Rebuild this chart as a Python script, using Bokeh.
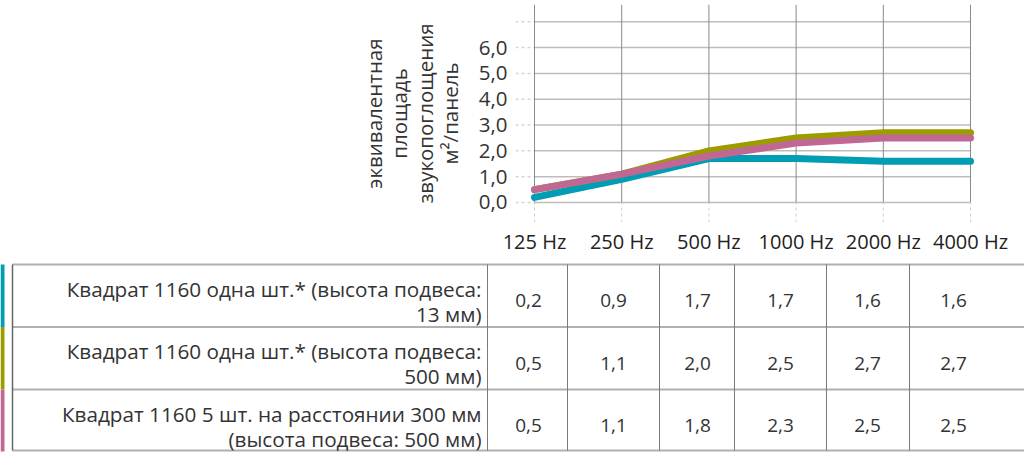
from bokeh.plotting import figure
from bokeh.models import Range1d, FixedTicker
from bokeh.core.properties import value
from bokeh.embed import file_html
from bokeh.resources import INLINE

# ---- data ----
freqs = ["125 Hz", "250 Hz", "500 Hz", "1000 Hz", "2000 Hz", "4000 Hz"]
s1 = [0.2, 0.9, 1.7, 1.7, 1.6, 1.6]
s2 = [0.5, 1.1, 2.0, 2.5, 2.7, 2.7]
s3 = [0.5, 1.1, 1.8, 2.3, 2.5, 2.5]
names = [
    ["Квадрат 1160 одна шт.* (высота подвеса:", "13 мм)"],
    ["Квадрат 1160 одна шт.* (высота подвеса:", "500 мм)"],
    ["Квадрат 1160 5 шт. на расстоянии 300 мм", "(высота подвеса: 500 мм)"],
]
colors = ["#009db5", "#9c9c00", "#c06893"]
y_ticks = [0, 1, 2, 3, 4, 5, 6]
grid_y = [0, 1, 2, 3, 4, 5, 6, 7]
y_title = "эквивалентная\nплощадь\nзвукопоглощения\nм²/панель"

FONT = "Open Sans"
TXT = "#333333"

def fmt(v):
    return f"{v:.1f}".replace(".", ",")

# ---- chart ----
xs = list(range(len(freqs)))
x0, x1 = -0.218, 5.057
y0, y1 = -0.775, 7.67
p = figure(width=1024, height=258, x_range=Range1d(x0, x1), y_range=Range1d(y0, y1),
           output_backend="svg", toolbar_location=None,
           min_border_left=515, min_border_right=49, min_border_top=4, min_border_bottom=36)
p.outline_line_color = None
p.grid.visible = False

# horizontal grid
p.segment(x0=[0] * len(grid_y), y0=grid_y, x1=[xs[-1]] * len(grid_y), y1=grid_y,
          line_color="#bdbdbd", line_width=1.5)
p.segment(x0=[x0] * len(grid_y), y0=grid_y, x1=[0] * len(grid_y), y1=grid_y,
          line_color="#d5d5d5", line_width=1.5, line_dash="3 3")
# vertical grid
p.segment(x0=xs, y0=[0] * len(xs), x1=xs, y1=[y1] * len(xs),
          line_color="#8a8a8a", line_width=1)
p.segment(x0=xs, y0=[y0] * len(xs), x1=xs, y1=[0] * len(xs),
          line_color="#cfcfcf", line_width=1, line_dash="3 3")

for vals, c in zip([s1, s2, s3], colors):
    p.line(xs, vals, line_color=c, line_width=7, line_join="round", line_cap="round")

ax = p.xaxis[0]
ax.ticker = FixedTicker(ticks=xs)
ax.major_label_overrides = {i: f for i, f in enumerate(freqs)}
ax.axis_line_color = None
ax.major_tick_line_color = None
ax.minor_tick_line_color = None
ax.major_tick_out = 0
ax.major_tick_in = 0
ax.major_label_standoff = 5
ax.major_label_text_font = FONT
ax.major_label_text_font_size = "20px"
ax.major_label_text_color = "#222222"

ay = p.yaxis[0]
ay.ticker = FixedTicker(ticks=y_ticks)
ay.major_label_overrides = {t: fmt(t) for t in y_ticks}
ay.axis_line_color = None
ay.major_tick_line_color = None
ay.minor_tick_line_color = None
ay.major_tick_out = 0
ay.major_tick_in = 0
ay.major_label_standoff = 8
ay.major_label_text_font = FONT
ay.major_label_text_font_size = "20.5px"
ay.major_label_text_color = TXT
ay.axis_label = y_title
ay.axis_label_text_font = FONT
ay.axis_label_text_font_size = "20.5px"
ay.axis_label_text_font_style = "normal"
ay.axis_label_text_color = TXT
ay.axis_label_standoff = 12
ay.axis_label_text_line_height = 0.9

# ---- table ----
t = figure(width=1024, height=195, x_range=Range1d(0, 1024), y_range=Range1d(453, 258),
           output_backend="svg", toolbar_location=None,
           x_axis_location=None, y_axis_location=None,
           min_border=0)
t.outline_line_color = None
t.grid.visible = False

row_tops = [264, 326.5, 389]
bottom = 450
col_lines = [487, 567, 659, 734, 826, 909]
val_x = [528, 613, 697, 780, 867, 953]

# colour bars
t.quad(left=[0] * 3, right=[4] * 3, top=row_tops, bottom=row_tops[1:] + [bottom + 1],
       fill_color=colors, line_color=None)
# horizontal lines
hy = row_tops + [bottom]
t.segment(x0=[12] * len(hy), y0=hy, x1=[1024] * len(hy), y1=hy,
          line_color="#b0b0b0", line_width=2)
# vertical lines
t.segment(x0=[12], y0=[row_tops[0]], x1=[12], y1=[bottom], line_color="#666666", line_width=1.5)
t.segment(x0=col_lines, y0=[row_tops[0]] * len(col_lines), x1=col_lines,
          y1=[bottom] * len(col_lines), line_color="#7a7a7a", line_width=1)

for r, (nm, vals) in enumerate(zip(names, [s1, s2, s3])):
    top = row_tops[r]
    t.text(x=[481, 481], y=[top + 24, top + 49], text=nm, text_align="right",
           text_baseline="middle", text_font=value(FONT), text_font_size="20.7px",
           text_color=TXT)
    t.text(x=val_x, y=[top + 36] * len(vals), text=[fmt(v) for v in vals],
           text_align="center", text_baseline="middle", text_font=value(FONT),
           text_font_size="19px", text_color=TXT)

open("out.html", "w").write(file_html([p, t], INLINE))
